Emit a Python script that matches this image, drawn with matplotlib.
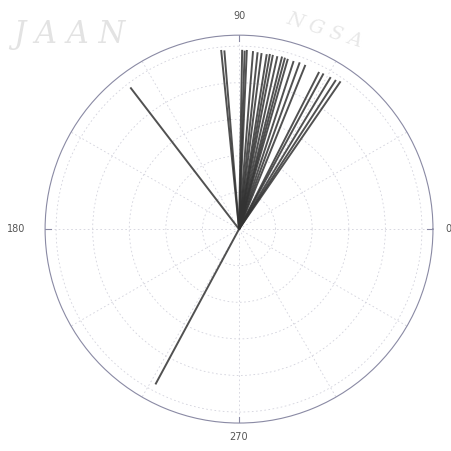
import numpy as np
import matplotlib
matplotlib.use("Agg")
import matplotlib.pyplot as plt

# Vector directions (degrees) and magnitudes
fan_angles = [95.7, 94.7, 89.0, 88.2, 87.5, 85.5, 84.0, 82.7, 81.0, 80.0, 79.0,
              77.5, 76.0, 75.0, 74.0, 72.0, 70.0, 68.0, 63.0, 61.5, 58.9, 57.0, 55.5]
fan_mags = [4.92, 4.90, 4.90, 4.88, 4.90, 4.88, 4.86, 4.85, 4.84, 4.86, 4.85,
            4.84, 4.86, 4.85, 4.84, 4.83, 4.85, 4.84, 4.82, 4.84, 4.85, 4.86, 4.9]
other_angles = [127.5, 241.7]
other_mags = [4.88, 4.82]

angles = fan_angles + other_angles
mags = fan_mags + other_mags

ring_ticks = [1, 2, 3, 4, 5]
r_max = 5.3
card_angles = [0, 90, 180, 270]
card_labels = ["0", "90", "180", "270"]

fig = plt.figure(figsize=(4.51, 4.51), dpi=100)
fig.patch.set_facecolor("white")

# faint scanned watermark
fig.text(0.03, 0.905, "J A A N", fontsize=22, family="DejaVu Serif", style="italic",
         color="#dcdcdc", alpha=0.8)
fig.text(0.63, 0.895, "N G S A", fontsize=14, family="DejaVu Serif", style="italic",
         color="#e2e2e2", rotation=-18, alpha=0.8)

ax = fig.add_axes([0.100, 0.062, 0.86, 0.86], projection="polar")
ax.set_facecolor("none")
ax.set_ylim(0, r_max)
ax.set_rgrids(ring_ticks, labels=[""] * len(ring_ticks))
ax.set_thetagrids(np.arange(0, 360, 30), labels=[""] * 12)
ax.grid(True, color="#d2d2dc", linestyle=(0, (2, 3)), linewidth=0.6)
ax.spines["polar"].set_color("#8a8aa4")
ax.spines["polar"].set_linewidth(0.8)
ax.tick_params(axis="x", length=0)

for a, m in zip(angles, mags):
    t = np.deg2rad(a)
    ax.plot([t, t], [0, m], color="#333333", linewidth=1.4, alpha=0.85,
            solid_capstyle="butt")

# cardinal labels
offsets = {0: 1.065, 90: 1.10, 180: 1.10, 270: 1.07}
for a, lab in zip(card_angles, card_labels):
    ha = "left" if a == 0 else ("right" if a == 180 else "center")
    ax.text(np.deg2rad(a), r_max * offsets[a], lab, ha=ha, va="center",
            fontsize=7, color="#555555")
    ax.plot([np.deg2rad(a)] * 2, [r_max * 0.97, r_max], color="#8a8aa4", lw=0.8)

fig.savefig("out.png", dpi=100)
